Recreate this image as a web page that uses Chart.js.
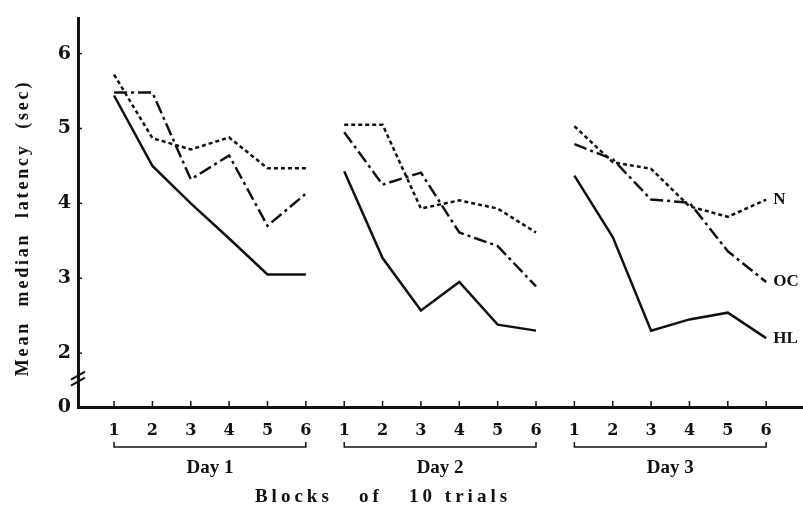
<!DOCTYPE html>
<html lang="en">
<head>
  <meta charset="UTF-8" />
  <title>Mean median latency by block</title>
  <script src="https://cdn.jsdelivr.net/npm/chart.js"></script>
  <style>
    * { margin: 0; padding: 0; box-sizing: border-box; }
    body { background: #fff; width: 803px; height: 512px; overflow: hidden; }
    canvas { display: block; }
  </style>
</head>
<body>
  <canvas id="latencyChart" width="803" height="512"></canvas>

  <script>
    // data: 3 days x 6 blocks of 10 trials
    const blocks = ['1', '2', '3', '4', '5', '6'];
    const days = ['Day 1', 'Day 2', 'Day 3'];
    const hlValues = [5.44, 4.50, 4.00, 3.53, 3.05, 3.05,  4.43, 3.27, 2.57, 2.95, 2.38, 2.30,  4.37, 3.55, 2.30, 2.45, 2.54, 2.20];
    const ocValues = [5.48, 5.48, 4.32, 4.64, 3.70, 4.13,  4.95, 4.25, 4.41, 3.61, 3.43, 2.89,  4.79, 4.59, 4.05, 4.01, 3.36, 2.95];
    const nValues  = [5.72, 4.87, 4.72, 4.88, 4.47, 4.47,  5.05, 5.05, 3.93, 4.04, 3.93, 3.61,  5.03, 4.55, 4.46, 3.96, 3.82, 4.05];
    const yTicks = [2, 3, 4, 5, 6];
    const yBreakValue = 1.28; // bottom of the broken axis, labelled 0

    const ink = '#111';
    const serif = '"DejaVu Serif", "Liberation Serif", serif';
    const label = '"Liberation Serif", serif';

    // one point per block, with a null between days so lines break
    function toPoints(values) {
      const pts = [];
      values.forEach((v, i) => {
        if (i > 0 && i % blocks.length === 0) pts.push({ x: i + 0.5, y: null });
        pts.push({ x: i + 1, y: v });
      });
      return pts;
    }

    const series = [
      { label: 'N', values: nValues, dash: [4, 3] },
      { label: 'OC', values: ocValues, dash: [13, 4, 3, 4] },
      { label: 'HL', values: hlValues, dash: [] }
    ];

    const annotations = {
      id: 'annotations',
      afterDraw(chart) {
        const { ctx, scales: { x, y } } = chart;
        const bottom = y.getPixelForValue(yBreakValue);
        ctx.save();
        ctx.strokeStyle = ink;
        ctx.fillStyle = ink;

        // small tick marks pointing into the plot
        ctx.lineWidth = 1.5;
        for (let i = 1; i <= blocks.length * days.length; i++) {
          const px = x.getPixelForValue(i);
          ctx.beginPath();
          ctx.moveTo(px, bottom);
          ctx.lineTo(px, bottom - 6);
          ctx.stroke();
        }
        yTicks.forEach(v => {
          const py = y.getPixelForValue(v);
          ctx.beginPath();
          ctx.moveTo(x.left, py);
          ctx.lineTo(x.left + 4, py);
          ctx.stroke();
        });

        // axis break marks
        const breakY = y.getPixelForValue(1.66);
        ctx.lineWidth = 2;
        [-3, 3].forEach(off => {
          ctx.beginPath();
          ctx.moveTo(x.left - 7, breakY + off + 4);
          ctx.lineTo(x.left + 7, breakY + off - 4);
          ctx.stroke();
        });

        // day brackets and labels
        days.forEach((day, d) => {
          const x1 = x.getPixelForValue(d * 6 + 1);
          const x2 = x.getPixelForValue(d * 6 + 6);
          const by = 447;
          ctx.lineWidth = 1.5;
          ctx.beginPath();
          ctx.moveTo(x1, by - 5);
          ctx.lineTo(x1, by);
          ctx.lineTo(x2, by);
          ctx.lineTo(x2, by - 5);
          ctx.stroke();
          ctx.font = 'bold 19px ' + label;
          ctx.textAlign = 'center';
          ctx.textBaseline = 'middle';
          ctx.fillText(day, (x1 + x2) / 2, 468);
        });

        // x axis title
        ctx.font = 'bold 19px ' + label;
        ctx.letterSpacing = '4px';
        ctx.textAlign = 'center';
        ctx.fillText('Blocks   of   10 trials', 383, 497);

        // y axis title
        ctx.save();
        ctx.translate(23, 228);
        ctx.rotate(-Math.PI / 2);
        ctx.letterSpacing = '2.8px';
        ctx.font = 'bold 18px ' + label;
        ctx.fillText('Mean  median  latency  (sec)', 0, 0);
        ctx.restore();

        // series labels at the end of each line
        ctx.letterSpacing = '0px';
        ctx.font = 'bold 17px ' + label;
        ctx.textAlign = 'left';
        series.forEach(s => {
          const last = s.values[s.values.length - 1];
          ctx.fillText(s.label, x.getPixelForValue(18) + 7, y.getPixelForValue(last));
        });
        ctx.restore();
      }
    };

    new Chart(document.getElementById('latencyChart'), {
      type: 'line',
      data: {
        datasets: series.map(s => ({
          label: s.label,
          data: toPoints(s.values),
          borderColor: ink,
          borderWidth: 2.5,
          borderDash: s.dash,
          pointRadius: 0,
          tension: 0,
          spanGaps: false,
          fill: false
        }))
      },
      options: {
        responsive: false,
        animation: false,
        layout: { padding: { top: 12, right: 0, left: 0, bottom: 0 } },
        plugins: {
          legend: { display: false },
          tooltip: { enabled: false }
        },
        scales: {
          x: {
            type: 'linear',
            min: 0.06,
            max: 18.96,
            afterFit: s => { s.height = 105; },
            afterBuildTicks: s => {
              s.ticks = [];
              for (let i = 1; i <= blocks.length * days.length; i++) s.ticks.push({ value: i });
            },
            ticks: {
              autoSkip: false,
              maxRotation: 0,
              padding: 14,
              color: ink,
              font: { family: serif, weight: 'bold', size: 16 },
              callback: v => blocks[(v - 1) % blocks.length]
            },
            grid: { display: false, drawTicks: false },
            border: { display: true, color: ink, width: 3 }
          },
          y: {
            type: 'linear',
            min: yBreakValue,
            max: 6.47,
            afterFit: s => { s.width = 78; },
            afterBuildTicks: s => {
              s.ticks = [{ value: yBreakValue }].concat(yTicks.map(v => ({ value: v })));
            },
            ticks: {
              padding: 7,
              color: ink,
              font: { family: serif, weight: 'bold', size: 19 },
              callback: v => (v < 1.5 ? '0' : String(v))
            },
            grid: { display: false, drawTicks: false },
            border: { display: true, color: ink, width: 3 }
          }
        }
      },
      plugins: [annotations]
    });
  </script>
</body>
</html>
